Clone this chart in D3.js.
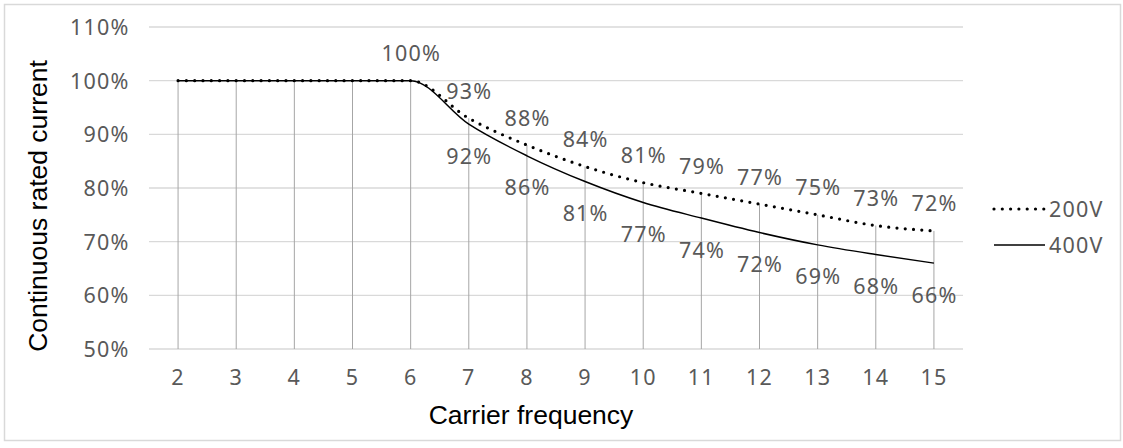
<!DOCTYPE html>
<html>
<head>
<meta charset="utf-8">
<script src="https://cdn.jsdelivr.net/npm/d3@7"></script>
<style>
  html, body { margin: 0; padding: 0; background: #fff; }
  svg { display: block; }
</style>
</head>
<body>
<svg id="chart" width="1123" height="448"></svg>
<script>
const categories = [2, 3, 4, 5, 6, 7, 8, 9, 10, 11, 12, 13, 14, 15];
const values200V = [100, 100, 100, 100, 100, 93, 88, 84, 81, 79, 77, 75, 73, 72];
const values400V = [100, 100, 100, 100, 100, 91.9, 86.0, 81.2, 77.3, 74.4, 71.7, 69.4, 67.6, 66.0];
const yTickValues = [50, 60, 70, 80, 90, 100, 110];
const seriesNames = ["200V", "400V"];
const labelStart200 = 4;   // first labelled point (x = 6)
const labelStart400 = 5;   // first labelled point (x = 7)

const svg = d3.select("#chart");
const tickFont = "'Noto Sans', 'Open Sans', sans-serif";
const titleFont = "'Liberation Sans', Arial, sans-serif";
const textColor = "#595959";
const fs = 21.5, ls = 1.2;
const pct = v => Math.round(v) + "%";

// outer border
svg.append("rect")
  .attr("x", 4.5).attr("y", 4.5)
  .attr("width", 1116).attr("height", 436)
  .attr("fill", "none").attr("stroke", "#d9d9d9").attr("stroke-width", 1.5);

const x = d3.scaleBand().domain(categories).range([149, 963]).padding(0);
const cx = d => x(d) + x.bandwidth() / 2;
const y = d3.scaleLinear().domain([50, 110]).range([349, 27]);

// horizontal gridlines
svg.append("g").selectAll("line").data(yTickValues).join("line")
  .attr("x1", 149).attr("x2", 963)
  .attr("y1", d => y(d)).attr("y2", d => y(d))
  .attr("stroke", "#d9d9d9").attr("stroke-width", 1.3);

// drop lines
svg.append("g").selectAll("line").data(categories).join("line")
  .attr("x1", d => cx(d)).attr("x2", d => cx(d))
  .attr("y1", y(50))
  .attr("y2", (d, i) => y(Math.max(values200V[i], values400V[i])))
  .attr("stroke", "#a6a6a6").attr("stroke-width", 1);

// y axis tick labels
const yAxis = d3.axisLeft(y).tickValues(yTickValues).tickSize(0).tickPadding(0)
  .tickFormat(d => d + "%");
const gy = svg.append("g").attr("transform", "translate(129.5,0)").call(yAxis);
gy.select(".domain").remove();
gy.selectAll("text")
  .attr("font-family", tickFont).attr("font-size", fs)
  .attr("letter-spacing", ls).attr("fill", textColor).attr("dy", "0.35em");

// x axis tick labels
const xAxis = d3.axisBottom(x).tickSize(0).tickPadding(0);
const gx = svg.append("g").attr("transform", "translate(0,377)").call(xAxis);
gx.select(".domain").remove();
gx.selectAll("text")
  .attr("font-family", tickFont).attr("font-size", fs)
  .attr("letter-spacing", ls).attr("fill", textColor).attr("dy", "0.35em");

// lines
const line = d3.line().x((d, i) => cx(categories[i])).y(d => y(d)).curve(d3.curveMonotoneX);
svg.append("path").datum(values400V)
  .attr("d", line).attr("fill", "none")
  .attr("stroke", "#000").attr("stroke-width", 1.5);
svg.append("path").datum(values200V)
  .attr("d", line).attr("fill", "none")
  .attr("stroke", "#000").attr("stroke-width", 3.2)
  .attr("stroke-linecap", "round").attr("stroke-dasharray", "0 8.3");

// data labels
const lab200 = values200V.map((v, i) => ({ v, i })).filter(d => d.i >= labelStart200);
const lab400 = values400V.map((v, i) => ({ v, i })).filter(d => d.i >= labelStart400);
svg.append("g").selectAll("text").data(lab200).join("text")
  .attr("x", d => cx(categories[d.i]) + ls / 2)
  .attr("y", d => y(d.v) - 27)
  .attr("dy", "0.35em").attr("text-anchor", "middle")
  .attr("font-family", tickFont).attr("font-size", fs).attr("letter-spacing", ls)
  .attr("fill", textColor).text(d => pct(d.v));
svg.append("g").selectAll("text").data(lab400).join("text")
  .attr("x", d => cx(categories[d.i]) + ls / 2)
  .attr("y", d => y(d.v) + 32)
  .attr("dy", "0.35em").attr("text-anchor", "middle")
  .attr("font-family", tickFont).attr("font-size", fs).attr("letter-spacing", ls)
  .attr("fill", textColor).text(d => pct(d.v));

// axis titles
svg.append("text")
  .attr("transform", "translate(38,206) rotate(-90)")
  .attr("text-anchor", "middle").attr("dy", "0.35em")
  .attr("font-family", titleFont).attr("font-size", 26.5).attr("fill", "#000")
  .text("Continuous rated current");
svg.append("text")
  .attr("x", 531).attr("y", 415).attr("dy", "0.35em")
  .attr("text-anchor", "middle")
  .attr("font-family", titleFont).attr("font-size", 26.5).attr("fill", "#000")
  .text("Carrier frequency");

// legend
const legend = svg.append("g");
const legendY = [209, 245];
legend.append("line")
  .attr("x1", 994).attr("x2", 1044).attr("y1", legendY[0]).attr("y2", legendY[0])
  .attr("stroke", "#000").attr("stroke-width", 3.2)
  .attr("stroke-linecap", "round").attr("stroke-dasharray", "0 8.3");
legend.append("line")
  .attr("x1", 994).attr("x2", 1045).attr("y1", legendY[1]).attr("y2", legendY[1])
  .attr("stroke", "#000").attr("stroke-width", 1.5);
legend.selectAll("text").data(seriesNames).join("text")
  .attr("x", 1049).attr("y", (d, i) => legendY[i]).attr("dy", "0.35em")
  .attr("font-family", tickFont).attr("font-size", fs).attr("letter-spacing", ls)
  .attr("fill", textColor).text(d => d);
</script>
</body>
</html>
